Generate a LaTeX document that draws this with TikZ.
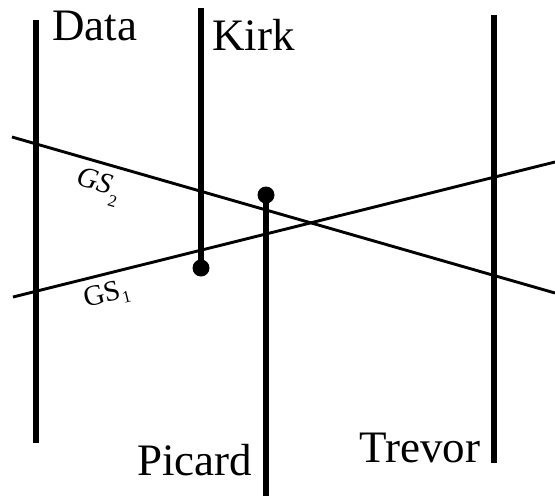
\documentclass[tikz,border=0pt]{standalone}
\usepackage{fontspec}
\setmainfont{Liberation Serif}
\tikzset{
  post/.style={line width=5.5pt, line cap=butt},
  gsline/.style={line width=2.9pt},
  dotc/.style={circle, fill=black, inner sep=0pt, minimum size=17pt},
  crewname/.style={inner sep=0pt, anchor=base west, font=\fontsize{45}{54}\selectfont},
  gslab/.style={inner sep=0pt, font=\fontsize{29}{32}\selectfont},
}
\begin{document}
\begin{tikzpicture}[x=1pt,y=-1pt]
\useasboundingbox (0,0) rectangle (555,496);
% coordinates
\coordinate (dtop) at (36,20);
\coordinate (dbot) at (36,443);
\coordinate (ktop) at (201,8);
\coordinate (kbot) at (201,268);
\coordinate (ptop) at (266,195);
\coordinate (pbot) at (266,496);
\coordinate (ttop) at (494,15);
\coordinate (tbot) at (494,463);
\coordinate (g2a) at (12,137);
\coordinate (g2b) at (555,293);
\coordinate (g1a) at (13,297);
\coordinate (g1b) at (555,162);
% GS lines
\draw[gsline] (g2a) -- (g2b);
\draw[gsline] (g1a) -- (g1b);
% posts
\draw[post] (dtop) -- (dbot);
\draw[post] (ktop) -- (kbot);
\draw[post] (ptop) -- (pbot);
\draw[post] (ttop) -- (tbot);
\node[dotc] (kdot) at (kbot) {};
\node[dotc] (pdot) at (ptop) {};
% names
\node[crewname] (data) at (52,40) {Data};
\node[crewname] (kirk) at (212,50) {Kirk};
\node[crewname] (picard) at (137,475) {Picard};
\node[crewname] (trevor) at (359,462) {Trevor};
% GS labels
\node[gslab, rotate=-16] (gs2) at (98,187) {\textit{GS}\raisebox{-11pt}{\fontsize{17}{17}\selectfont 2}};
\node[gslab, rotate=14] (gs1) at (107,295) {GS\raisebox{-5pt}{\fontsize{17}{17}\selectfont 1}};
\end{tikzpicture}
\end{document}
